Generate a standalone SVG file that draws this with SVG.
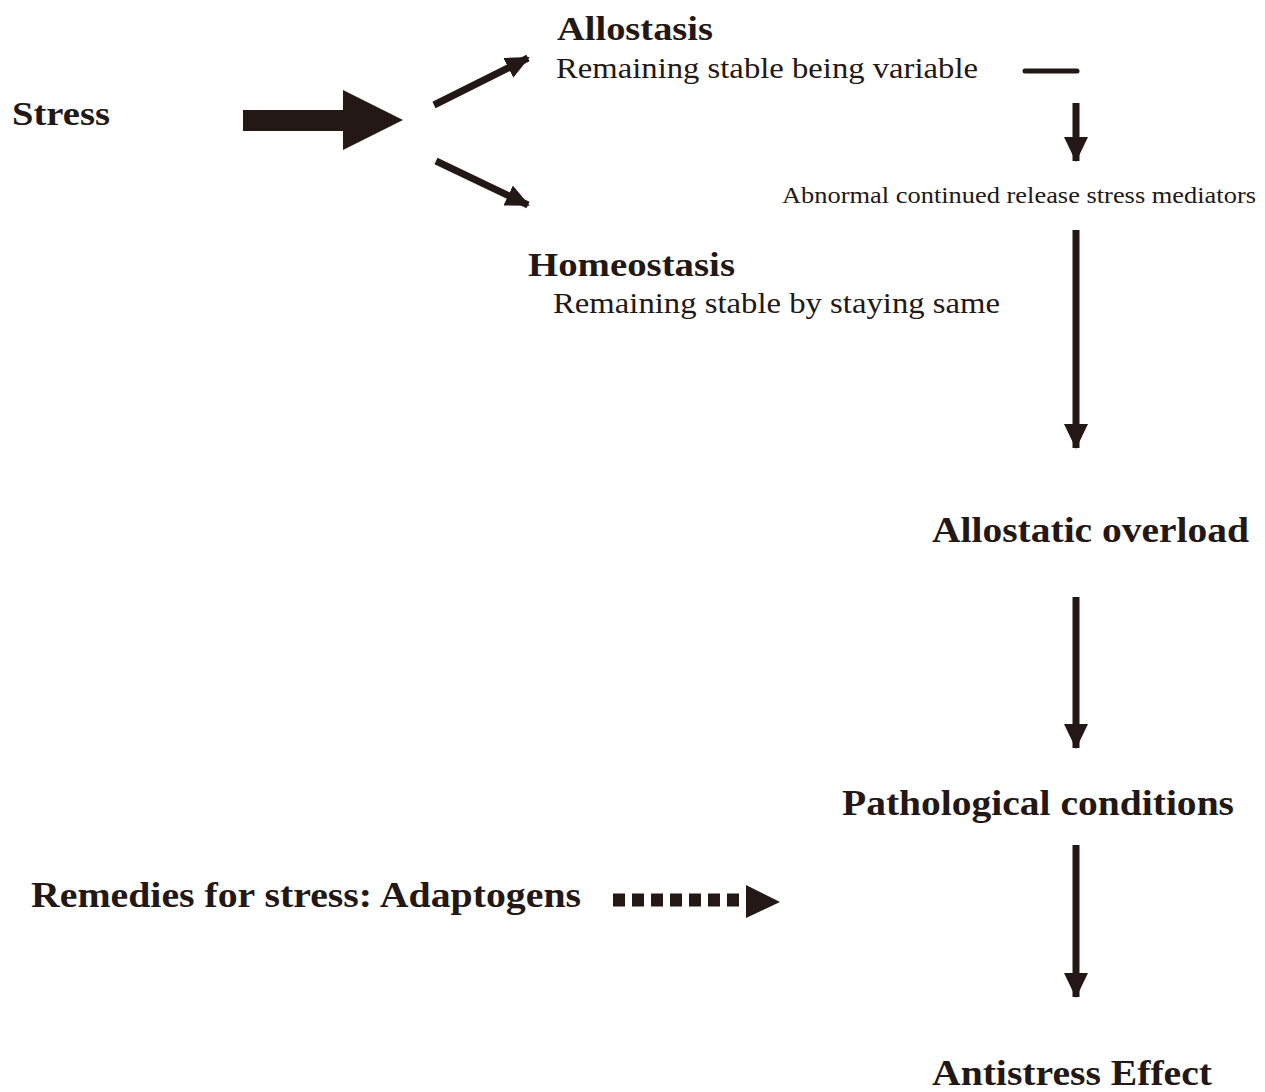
<svg xmlns="http://www.w3.org/2000/svg" width="1265" height="1092" viewBox="0 0 1265 1092">
<defs>
<style>
text{fill:#231815;font-family:"Liberation Serif","Times New Roman",serif}
.b{font-weight:bold}
.ln{stroke:#231815;stroke-width:7;fill:none}
.hd{fill:#231815}
</style>
<marker id="ah" markerUnits="userSpaceOnUse" markerWidth="26" markerHeight="26" viewBox="0 0 26 26" refX="24" refY="13" orient="auto">
<path d="M0,1 L25,13 L0,25 Z" fill="#231815"/>
</marker>
<marker id="ahs" markerUnits="userSpaceOnUse" markerWidth="24" markerHeight="22" viewBox="0 0 24 22" refX="22" refY="11" orient="auto">
<path d="M0,0 L24,11 L0,22 Z" fill="#231815"/>
</marker>
</defs>
<rect width="1265" height="1092" fill="#ffffff"/>
<g id="connectors">
<polygon class="hd" points="243,110 343,110 343,90 403,120 343,150 343,131 243,131"/>
<line class="ln" x1="434" y1="105" x2="528" y2="58" marker-end="url(#ahs)"/>
<line class="ln" x1="436" y1="161" x2="528" y2="205" marker-end="url(#ahs)"/>
<line x1="1025" y1="71" x2="1077" y2="71" stroke="#231815" stroke-width="5" stroke-linecap="round"/>
<line class="ln" x1="1076" y1="103" x2="1076" y2="161" marker-end="url(#ah)"/>
<line class="ln" x1="1076" y1="230" x2="1076" y2="448" marker-end="url(#ah)"/>
<line class="ln" x1="1076" y1="597" x2="1076" y2="748" marker-end="url(#ah)"/>
<line class="ln" x1="1076" y1="845" x2="1076" y2="997" marker-end="url(#ah)"/>
<line x1="613" y1="900" x2="746" y2="900" stroke="#231815" stroke-width="13" stroke-dasharray="12 7"/>
<polygon class="hd" points="746,885 780,902 746,918"/>
</g>
<g id="stress"><text class="b" x="12" y="125" font-size="34" textLength="98" lengthAdjust="spacingAndGlyphs">Stress</text></g>
<g id="allostasis">
<text class="b" x="557" y="40" font-size="34" textLength="156" lengthAdjust="spacingAndGlyphs">Allostasis</text>
<text x="556" y="78" font-size="30" textLength="422" lengthAdjust="spacingAndGlyphs">Remaining stable being variable</text>
</g>
<g id="homeostasis">
<text class="b" x="528" y="276" font-size="34" textLength="207" lengthAdjust="spacingAndGlyphs">Homeostasis</text>
<text x="553" y="313" font-size="30" textLength="447" lengthAdjust="spacingAndGlyphs">Remaining stable by staying same</text>
</g>
<g id="mediators"><text x="782" y="203" font-size="23" textLength="474" lengthAdjust="spacingAndGlyphs">Abnormal continued release stress mediators</text></g>
<g id="overload"><text class="b" x="932" y="542" font-size="36" textLength="317" lengthAdjust="spacingAndGlyphs">Allostatic overload</text></g>
<g id="pathological"><text class="b" x="842" y="815" font-size="36" textLength="392" lengthAdjust="spacingAndGlyphs">Pathological conditions</text></g>
<g id="remedies"><text class="b" x="31" y="907" font-size="36" textLength="550" lengthAdjust="spacingAndGlyphs">Remedies for stress: Adaptogens</text></g>
<g id="antistress"><text class="b" x="932" y="1085" font-size="35" textLength="280" lengthAdjust="spacingAndGlyphs">Antistress Effect</text></g>
</svg>
